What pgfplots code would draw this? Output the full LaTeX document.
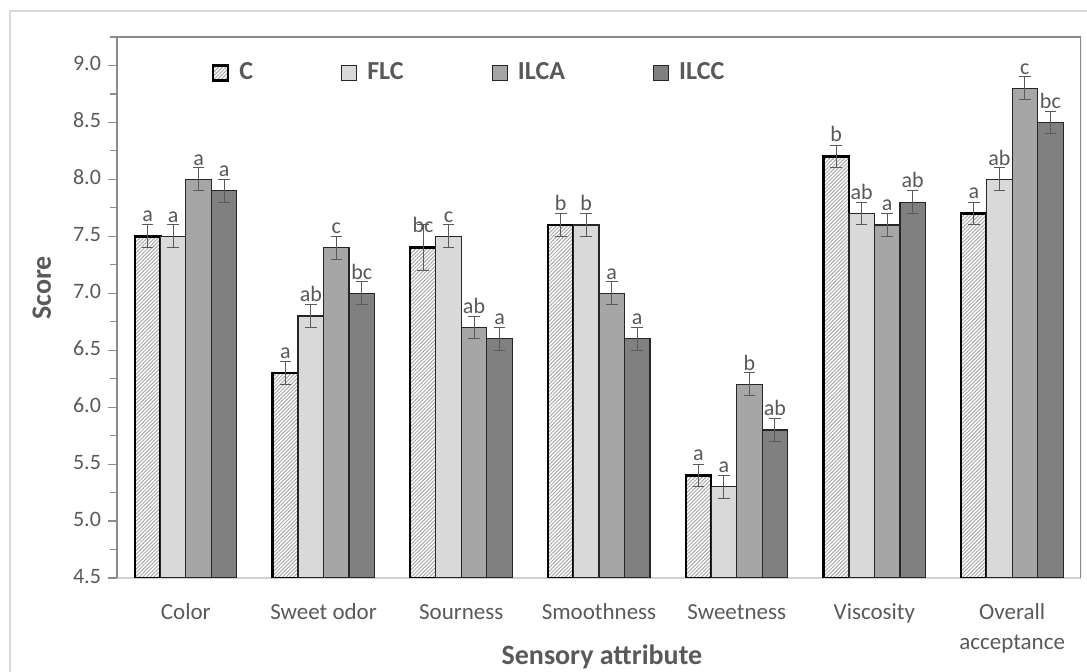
\documentclass[border=0pt]{standalone}
\usepackage{fontspec}
\setmainfont{Carlito}
\usepackage{pgfplots}
\usepackage{pgfplotstable}
\pgfplotsset{compat=1.18}
\usetikzlibrary{patterns,patterns.meta}
\definecolor{txt}{HTML}{595959}
\definecolor{flc}{HTML}{D9D9D9}
\definecolor{ilca}{HTML}{A6A6A6}
\definecolor{ilcc}{HTML}{808080}
\definecolor{hatch}{HTML}{A8A8A8}
\definecolor{edge}{HTML}{262626}

\pgfplotstableread{
x y err lab
0 7.5 0.1 a
1 6.3 0.1 a
2 7.4 0.2 bc
3 7.6 0.1 b
4 5.4 0.1 a
5 8.2 0.1 b
6 7.7 0.1 a
}\tC
\pgfplotstableread{
x y err lab
0 7.5 0.1 a
1 6.8 0.1 ab
2 7.5 0.1 c
3 7.6 0.1 b
4 5.3 0.1 a
5 7.7 0.1 ab
6 8.0 0.1 ab
}\tFLC
\pgfplotstableread{
x y err lab
0 8.0 0.1 a
1 7.4 0.1 c
2 6.7 0.1 ab
3 7.0 0.1 a
4 6.2 0.1 b
5 7.6 0.1 a
6 8.8 0.1 c
}\tILCA
\pgfplotstableread{
x y err lab
0 7.9 0.1 a
1 7.0 0.1 bc
2 6.6 0.1 a
3 6.6 0.1 a
4 5.8 0.1 ab
5 7.8 0.1 ab
6 8.5 0.1 bc
}\tILCC

\begin{document}
\begin{tikzpicture}
\useasboundingbox (0,0) rectangle (543.5pt,-336pt);
\draw[black!15, line width=0.8pt] (5pt,-345pt) -- (5pt,-5.5pt) -- (560pt,-5.5pt);
\begin{axis}[
  at={(58.5pt,-289pt)}, anchor=south west,
  scale only axis, width=482pt, height=270.5pt,
  ybar=0pt, bar width=12.75pt,
  xmin=-0.5, xmax=6.5, ymin=4.5, ymax=9.25,
  axis lines=left,
  axis line style={-},
  x axis line style={draw=black!18, line width=0.8pt},
  y axis line style={draw=black!45, line width=0.6pt},
  xtick={0,...,6},
  xticklabels={Color, Sweet odor, Sourness, Smoothness, Sweetness, Viscosity, {Overall\\[1.2pt]acceptance}},
  xtick style={draw=none},
  typeset ticklabels with strut,
  xticklabel style={align=center, font=\fontsize{11.5}{13.8}\selectfont, text=txt, yshift=-3pt},
  ytick={4.5,5,...,9},
  minor ytick={4.75,5.25,...,9.25},
  tick align=outside,
  major tick length=4.5pt, minor tick length=3.5pt,
  ytick style={draw=black!45, line width=0.6pt},
  minor tick style={draw=black!45, line width=0.6pt},
  yticklabel style={font=\fontsize{11}{13}\selectfont, text=txt, /pgf/number format/.cd, fixed, fixed zerofill, precision=1, assume math mode=true},
  ylabel={Score}, xlabel={Sensory attribute},
  every axis y label/.style={at={(axis description cs:-0.078,0.536)}, rotate=90, anchor=center, font=\fontsize{14}{16}\selectfont\bfseries, text=txt},
  every axis x label/.style={at={(axis description cs:0.503,-0.146)}, anchor=center, font=\fontsize{14}{16}\selectfont\bfseries, text=txt},
  legend columns=4,
  legend style={draw=none, fill=none, inner sep=0pt, outer sep=0pt, at={(0.0985,0.9335)}, anchor=west,
    font=\fontsize{13}{15}\selectfont\bfseries, text=txt,
    /tikz/every odd column/.append style={column sep=3pt},
    /tikz/every even column/.append style={column sep=42pt}},
  legend image code/.code={\draw[#1] (0pt,-3.75pt) rectangle (7.5pt,3.75pt);},
  nodes near coords, point meta=explicit symbolic,
  every node near coord/.append style={font=\fontsize{11}{13}\selectfont, text=txt, yshift=5.7pt, inner sep=1pt, anchor=south},
  error bars/y dir=both, error bars/y explicit,
  error bars/error bar style={draw=txt, line width=0.5pt},
  error bars/error mark options={rotate=90, mark size=2.9pt, draw=txt, line width=0.5pt},
]
\addplot[draw=black, line width=1.2pt, pattern={Lines[angle=45,distance=1.3pt,line width=0.5pt]}, pattern color=hatch]
  table[x=x, y=y, y error=err, meta=lab] {\tC};
\addplot[draw=edge, line width=0.6pt, fill=flc]
  table[x=x, y=y, y error=err, meta=lab] {\tFLC};
\addplot[draw=edge, line width=0.6pt, fill=ilca]
  table[x=x, y=y, y error=err, meta=lab] {\tILCA};
\addplot[draw=edge, line width=0.6pt, fill=ilcc]
  table[x=x, y=y, y error=err, meta=lab] {\tILCC};
\legend{C, FLC, ILCA, ILCC}
\draw[black!45, line width=0.6pt] (rel axis cs:0,1) -- (rel axis cs:1,1) -- (rel axis cs:1,0);
\end{axis}
\end{tikzpicture}
\end{document}
